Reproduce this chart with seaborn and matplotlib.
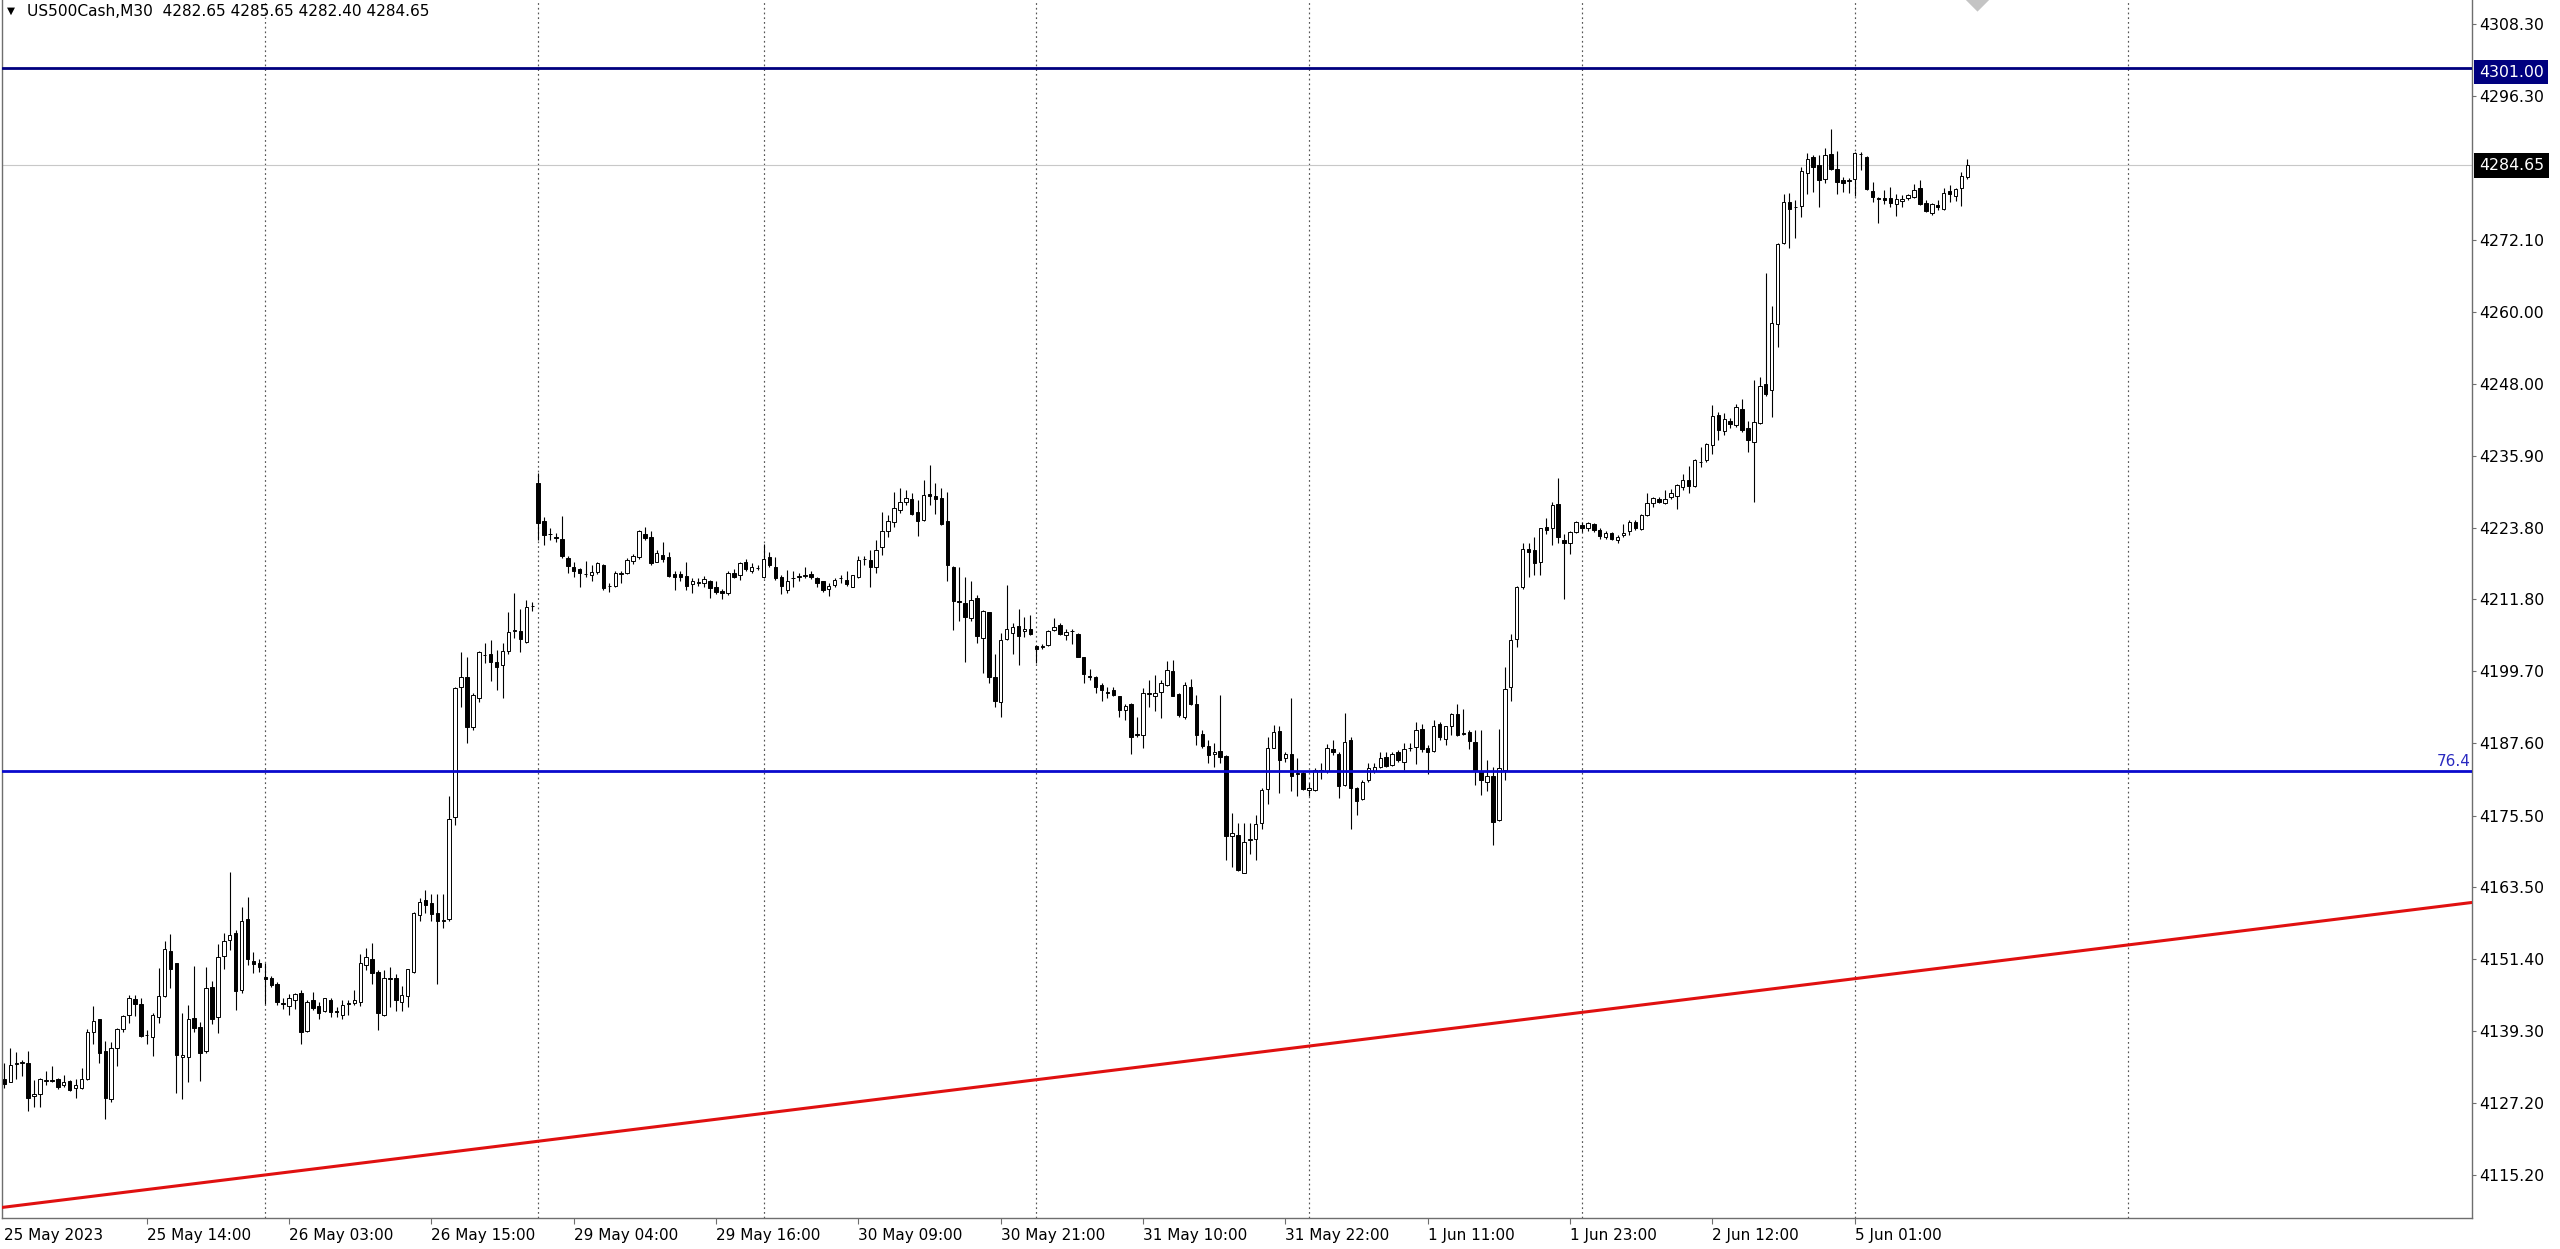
import numpy as np
import pandas as pd
import matplotlib
matplotlib.use("Agg")
import matplotlib.pyplot as plt
import matplotlib.transforms as mtransforms
import seaborn as sns

# ---------------- data ----------------
symbol_title = "US500Cash,M30"
last_ohlc = ["4282.65", "4285.65", "4282.40", "4284.65"]

opens = [
 4131.3,4130.8,4133.8,4134.0,4134.0,4128.4,4128.8,4130.9,4131.1,4131.2,
 4130.2,4130.9,4129.7,4129.8,4131.2,4139.2,4141.3,4135.9,4128.0,4136.5,
 4139.6,4142.1,4144.7,4143.9,4138.7,4138.3,4141.6,4145.2,4152.8,4150.7,
 4134.9,4135.0,4141.5,4140.0,4135.9,4146.7,4141.7,4151.9,4154.6,4155.8,
 4146.2,4158.1,4151.1,4150.8,4148.4,4148.3,4147.3,4144.1,4143.5,4144.6,
 4145.7,4139.3,4144.5,4143.5,4142.7,4144.6,4142.6,4142.0,4143.9,4144.0,
 4144.2,4150.4,4151.5,4149.3,4142.0,4148.1,4148.3,4144.2,4145.2,4149.3,
 4158.8,4161.3,4160.9,4159.1,4157.8,4158.2,4175.3,4197.0,4198.8,4190.4,
 4195.2,4202.5,4202.6,4201.2,4200.7,4203.2,4206.5,4206.4,4204.6,4210.6,
 4231.4,4225.0,4222.8,4222.3,4221.9,4218.8,4217.2,4216.9,4216.1,4215.8,
 4216.4,4217.6,4214.1,4214.1,4216.1,4216.2,4218.3,4218.9,4222.8,4222.2,
 4218.1,4219.3,4218.9,4216.1,4216.0,4215.7,4214.4,4214.6,4214.5,4214.9,
 4213.9,4213.2,4212.9,4216.3,4215.9,4218.0,4216.6,4217.0,4215.6,4218.9,
 4217.3,4215.6,4213.4,4215.3,4215.6,4215.7,4216.1,4215.3,4214.8,4213.5,
 4214.2,4215.3,4215.1,4213.9,4215.5,4218.6,4218.4,4217.2,4220.5,4223.2,
 4224.7,4226.8,4228.1,4228.6,4226.4,4225.1,4229.5,4229.2,4228.8,4224.9,
 4217.3,4211.5,4211.1,4208.6,4212.0,4205.3,4209.6,4198.7,4194.5,4205.1,
 4206.1,4207.4,4206.4,4206.8,4203.9,4203.8,4204.1,4206.7,4207.5,4205.8,
 4206.5,4206.0,4202.1,4198.9,4198.8,4197.4,4196.2,4196.5,4195.5,4193.2,
 4194.3,4189.1,4189.0,4195.9,4195.5,4196.3,4197.4,4199.7,4195.9,4192.1,
 4197.1,4194.2,4189.2,4187.2,4185.8,4186.3,4185.5,4172.1,4172.2,4165.9,
 4171.4,4171.5,4174.2,4179.9,4186.9,4189.7,4185.1,4185.9,4182.5,4182.6,
 4179.8,4179.8,4183.0,4182.9,4186.6,4185.9,4180.6,4188.2,4180.1,4178.2,
 4181.5,4183.0,4183.7,4185.3,4184.0,4186.1,4184.5,4186.8,4187.0,4190.1,
 4186.8,4186.4,4190.8,4188.4,4190.6,4192.6,4189.3,4189.5,4187.8,4183.0,
 4181.1,4182.1,4174.7,4183.1,4197.1,4205.2,4213.9,4220.3,4220.0,4218.1,
 4224.0,4223.7,4227.8,4221.8,4221.2,4223.1,4224.2,4223.7,4224.4,4223.5,
 4222.3,4223.0,4221.8,4222.6,4223.3,4224.8,4223.6,4225.9,4227.9,4228.6,
 4227.9,4228.9,4229.2,4230.7,4231.8,4230.8,4234.8,4235.2,4237.7,4242.8,
 4240.1,4241.8,4241.0,4243.8,4240.5,4238.2,4241.4,4248.0,4246.9,4258.0,
 4271.6,4278.5,4277.6,4277.8,4283.4,4286.0,4284.7,4282.3,4286.6,4284.0,
 4282.2,4282.0,4282.3,4286.5,4286.1,4280.4,4279.1,4279.1,4279.1,4278.1,
 4278.6,4279.1,4279.4,4280.8,4278.4,4276.7,4278.0,4277.4,4280.3,4279.5,
 4280.8,4282.65]

highs = [
 4133.9,4136.5,4135.8,4134.5,4135.9,4131.1,4131.4,4132.7,4133.4,4131.5,
 4131.9,4131.1,4131.3,4133.1,4139.7,4143.5,4141.4,4137.6,4137.5,4139.9,
 4142.0,4145.3,4145.3,4144.8,4139.5,4142.4,4149.9,4154.5,4155.7,4150.8,
 4142.3,4143.7,4150.3,4140.9,4150.1,4147.7,4154.0,4155.8,4166.0,4156.3,
 4160.1,4161.9,4152.6,4151.5,4150.7,4148.5,4147.5,4144.8,4145.6,4145.7,
 4146.2,4144.5,4145.9,4144.2,4144.9,4144.8,4143.4,4144.5,4144.5,4146.2,
 4152.3,4153.2,4154.1,4149.5,4149.5,4150.0,4148.9,4146.9,4149.8,4159.3,
 4161.7,4163.0,4162.3,4162.4,4162.4,4178.7,4197.0,4203.0,4202.1,4196.0,
 4203.1,4204.4,4205.0,4203.3,4204.4,4209.7,4212.8,4210.1,4211.7,4211.4,
 4233.0,4225.7,4223.7,4222.9,4225.8,4219.1,4218.1,4217.0,4218.3,4217.6,
 4218.1,4217.7,4214.6,4216.5,4216.6,4218.7,4219.4,4223.5,4224.0,4223.2,
 4220.0,4221.5,4219.8,4216.5,4216.5,4218.1,4215.3,4215.3,4215.7,4215.1,
 4214.9,4213.5,4216.5,4216.9,4218.0,4218.5,4217.9,4217.6,4221.1,4219.8,
 4218.9,4215.9,4216.7,4216.5,4216.3,4217.3,4216.5,4215.6,4214.9,4214.5,
 4215.3,4215.9,4216.5,4215.9,4219.0,4219.1,4220.1,4221.8,4226.4,4226.0,
 4229.9,4230.5,4230.1,4229.7,4228.5,4231.9,4234.4,4231.3,4230.5,4229.9,
 4217.4,4217.3,4215.6,4214.9,4212.5,4210.0,4209.7,4202.6,4206.1,4214.2,
 4207.8,4210.1,4208.9,4209.2,4204.1,4204.3,4206.7,4208.6,4207.8,4206.9,
 4206.8,4206.1,4202.2,4200.1,4198.9,4197.7,4197.0,4197.0,4195.6,4194.3,
 4194.4,4192.1,4196.9,4198.3,4199.1,4198.3,4201.5,4201.6,4196.0,4198.0,
 4198.4,4195.7,4189.9,4188.2,4187.6,4195.7,4185.7,4175.9,4174.2,4174.2,
 4174.2,4175.6,4180.1,4188.7,4190.7,4190.5,4186.2,4195.2,4185.1,4182.9,
 4180.9,4183.4,4184.3,4187.5,4188.2,4186.2,4192.8,4188.7,4180.3,4181.5,
 4184.3,4184.3,4186.2,4186.2,4186.2,4186.5,4187.6,4187.7,4191.2,4190.9,
 4187.3,4191.6,4191.2,4190.6,4192.7,4194.3,4193.4,4189.8,4189.8,4189.8,
 4184.8,4183.6,4190.1,4200.4,4206.0,4214.0,4221.3,4221.2,4222.2,4223.8,
 4225.4,4228.2,4232.2,4222.8,4223.3,4225.0,4224.8,4224.8,4224.6,4223.7,
 4223.3,4223.1,4222.6,4224.4,4225.1,4225.1,4226.2,4229.7,4229.0,4228.9,
 4230.1,4230.4,4231.2,4232.9,4234.2,4235.3,4237.4,4238.1,4244.4,4243.3,
 4243.0,4242.2,4244.6,4245.4,4241.8,4248.6,4249.1,4266.5,4261.0,4271.6,
 4279.9,4280.0,4278.8,4284.4,4286.8,4286.4,4286.4,4287.5,4290.7,4287.1,
 4282.7,4282.6,4286.9,4286.9,4286.2,4281.9,4279.4,4280.5,4281.0,4279.8,
 4279.6,4279.8,4281.6,4282.2,4278.8,4278.4,4278.8,4280.8,4281.3,4280.8,
 4283.6,4285.65]

lows = [
 4129.7,4130.7,4131.3,4131.8,4125.9,4126.6,4126.5,4130.2,4130.7,4129.6,
 4129.9,4129.2,4128.1,4129.6,4131.1,4137.2,4134.0,4124.6,4127.4,4133.4,
 4139.2,4140.7,4141.9,4138.3,4137.2,4135.1,4140.6,4145.1,4146.5,4129.0,
 4128.0,4130.8,4139.2,4130.9,4135.7,4140.5,4139.0,4149.7,4152.9,4142.9,
 4145.7,4150.4,4149.1,4149.3,4143.9,4146.7,4143.7,4143.1,4142.0,4143.1,
 4137.2,4139.2,4142.8,4141.4,4142.5,4141.7,4141.7,4141.4,4142.0,4143.7,
 4143.5,4149.5,4147.2,4139.5,4141.9,4143.4,4142.7,4142.7,4143.4,4149.0,
 4157.8,4159.1,4157.8,4147.3,4156.7,4157.8,4173.9,4193.8,4187.6,4189.9,
 4194.6,4201.1,4198.1,4196.6,4195.2,4202.6,4205.3,4203.0,4204.4,4209.9,
 4221.8,4220.9,4221.8,4221.5,4218.7,4216.3,4215.6,4213.9,4215.5,4214.8,
 4216.1,4213.3,4213.1,4213.8,4214.5,4216.1,4217.7,4218.5,4221.8,4217.6,
 4218.0,4218.1,4215.5,4213.4,4214.9,4213.4,4212.9,4214.1,4213.9,4212.0,
 4212.7,4211.8,4212.5,4215.3,4215.1,4216.6,4216.3,4216.7,4215.3,4217.3,
 4215.1,4212.7,4212.9,4213.9,4214.9,4215.3,4215.2,4213.9,4213.1,4212.3,
 4213.9,4214.5,4214.1,4213.8,4215.3,4217.6,4213.9,4216.3,4219.3,4222.2,
 4224.0,4226.3,4227.7,4226.0,4222.5,4225.0,4227.7,4226.1,4224.3,4214.8,
 4206.7,4208.1,4201.3,4208.2,4204.4,4199.5,4197.7,4193.8,4192.1,4204.9,
 4202.6,4200.7,4205.5,4205.8,4201.1,4203.5,4204.0,4206.4,4205.8,4205.0,
 4204.3,4202.1,4197.7,4198.3,4196.1,4194.8,4195.3,4195.6,4192.0,4191.5,
 4185.8,4188.7,4186.9,4193.8,4193.1,4191.8,4197.3,4195.5,4192.1,4191.7,
 4194.1,4187.3,4186.9,4184.4,4183.7,4184.3,4168.0,4166.9,4166.2,4165.8,
 4169.1,4168.1,4173.3,4177.5,4186.8,4179.3,4184.5,4179.7,4178.7,4179.8,
 4178.7,4179.7,4181.7,4182.7,4185.7,4178.4,4180.5,4173.2,4175.6,4178.1,
 4181.2,4182.6,4183.4,4183.6,4183.8,4184.5,4183.1,4186.4,4184.2,4186.2,
 4182.5,4186.2,4188.1,4187.3,4189.0,4188.8,4189.0,4186.7,4180.6,4178.9,
 4179.7,4170.5,4174.6,4181.4,4194.8,4203.8,4213.6,4215.6,4215.8,4215.8,
 4222.8,4221.0,4221.2,4211.8,4219.4,4223.0,4223.1,4223.3,4223.1,4222.0,
 4222.0,4221.8,4221.3,4222.3,4222.6,4223.4,4223.4,4225.8,4227.3,4227.9,
 4227.8,4228.7,4227.0,4230.1,4229.6,4230.7,4234.0,4234.9,4236.2,4238.6,
 4239.4,4240.5,4240.8,4239.9,4236.6,4228.1,4241.3,4246.0,4242.4,4254.2,
 4271.5,4270.8,4272.4,4276.0,4279.8,4280.2,4277.7,4281.7,4283.8,4279.8,
 4280.2,4280.0,4279.5,4283.8,4280.5,4278.5,4275.0,4278.2,4277.7,4276.1,
 4277.7,4278.8,4279.1,4278.0,4276.8,4276.3,4277.1,4277.1,4278.5,4278.6,
 4277.8,4282.40]

closes = [
 4130.4,4133.6,4133.9,4134.1,4128.1,4128.8,4131.2,4131.1,4131.0,4129.9,
 4130.7,4129.4,4130.2,4131.2,4139.1,4141.0,4135.7,4128.1,4136.4,4139.6,
 4141.8,4144.9,4143.8,4138.5,4138.6,4142.1,4145.2,4153.1,4149.8,4135.3,
 4135.3,4141.3,4139.9,4135.7,4146.6,4141.4,4151.7,4154.4,4155.5,4146.0,
 4157.8,4151.5,4150.5,4150.1,4148.1,4147.0,4144.2,4143.9,4144.8,4145.5,
 4139.2,4144.2,4143.2,4142.4,4144.8,4142.5,4142.5,4143.7,4144.0,4144.5,
 4150.7,4151.7,4149.0,4142.3,4148.3,4148.2,4144.5,4145.3,4149.7,4159.2,
 4161.0,4160.5,4158.9,4157.8,4157.9,4175.0,4196.9,4198.7,4190.3,4195.7,
 4202.9,4202.4,4201.3,4200.5,4203.1,4206.3,4206.6,4205.1,4210.5,4210.7,
 4224.6,4222.6,4222.7,4222.1,4219.0,4217.4,4216.6,4216.3,4216.0,4216.4,
 4217.9,4213.7,4214.0,4216.3,4216.2,4218.4,4219.1,4223.2,4222.1,4217.9,
 4219.5,4218.5,4215.7,4215.5,4215.5,4214.1,4214.8,4214.7,4215.2,4213.7,
 4213.1,4212.8,4216.2,4215.5,4217.9,4216.9,4217.3,4217.1,4218.5,4217.6,
 4215.3,4214.1,4214.9,4215.4,4215.7,4215.8,4215.5,4214.6,4213.4,4214.1,
 4215.1,4215.4,4214.4,4215.8,4218.4,4218.5,4217.3,4220.1,4223.2,4224.9,
 4227.1,4228.2,4228.8,4226.1,4225.0,4229.3,4229.1,4228.6,4224.5,4217.6,
 4211.6,4211.4,4208.9,4211.7,4205.7,4209.9,4198.8,4194.7,4204.9,4206.8,
 4207.2,4205.7,4206.8,4206.0,4203.5,4204.0,4206.4,4207.1,4206.0,4206.3,
 4206.4,4202.2,4199.2,4198.7,4197.1,4196.5,4196.1,4195.7,4193.2,4193.9,
 4188.7,4189.0,4196.0,4196.0,4196.1,4197.8,4199.9,4195.6,4192.4,4197.4,
 4194.3,4189.0,4187.1,4185.7,4186.1,4185.3,4172.1,4172.5,4166.3,4171.1,
 4171.5,4174.0,4179.8,4186.8,4189.6,4184.9,4185.8,4182.1,4182.7,4179.9,
 4180.1,4183.1,4183.1,4186.9,4186.2,4180.5,4187.9,4180.1,4178.0,4181.2,
 4183.4,4183.6,4185.1,4183.8,4185.9,4184.8,4186.7,4186.9,4189.9,4186.7,
 4186.2,4190.6,4188.7,4190.6,4192.5,4189.0,4189.2,4188.0,4183.0,4181.4,
 4182.2,4174.4,4183.4,4196.8,4204.9,4213.8,4220.2,4219.8,4217.9,4223.7,
 4223.5,4227.6,4222.2,4221.3,4223.1,4224.8,4223.8,4224.6,4223.5,4222.4,
 4223.0,4222.0,4222.3,4223.0,4224.7,4223.7,4225.9,4227.9,4228.8,4228.1,
 4228.6,4229.6,4231.0,4231.9,4230.8,4235.2,4234.9,4237.8,4242.6,4240.2,
 4242.0,4241.3,4244.1,4240.3,4238.6,4241.6,4247.6,4246.3,4258.2,4271.5,
 4278.5,4277.4,4277.7,4283.7,4285.7,4284.4,4282.2,4286.4,4284.1,4281.9,
 4281.7,4282.1,4286.8,4286.6,4280.6,4279.4,4279.0,4278.9,4278.4,4279.0,
 4279.0,4279.6,4280.5,4278.1,4277.0,4278.2,4277.6,4280.0,4279.9,4280.6,
 4282.8,4284.65]

x_tick_bars = [24, 48, 72, 96, 120, 144, 168, 192, 216, 240, 264, 288, 312]
x_tick_labels = ["25 May 14:00", "26 May 03:00", "26 May 15:00", "29 May 04:00",
                 "29 May 16:00", "30 May 09:00", "30 May 21:00", "31 May 10:00",
                 "31 May 22:00", "1 Jun 11:00", "1 Jun 23:00", "2 Jun 12:00",
                 "5 Jun 01:00"]
first_date_label = "25 May 2023"
separator_bars = [44, 90, 128, 174, 220, 266, 312, 358]
y_tick_values = [4308.30, 4296.30, 4272.10, 4260.00, 4248.00, 4235.90, 4223.80,
                 4211.80, 4199.70, 4187.60, 4175.50, 4163.50, 4151.40, 4139.30,
                 4127.20, 4115.20]
resistance_level = 4301.00
fib_level = 4183.0
fib_label = "76.4"
current_price = 4284.65
trend_bars = [-0.5, 416.0]
trend_prices = [4109.7, 4160.9]
marker_bar = [332.7]
y_limits = (4107.94, 4312.41)
x_limits = (-0.49, 416.0)

# ---------------- style ----------------
sns.set_theme(style="white")
plt.rcParams['font.family'] = ['DejaVu Sans']

W, H = 2560, 1249
fig = plt.figure(figsize=(W / 100, H / 100), dpi=100)
fig.patch.set_facecolor("white")
ax = fig.add_axes([1.5 / W, 31 / H, (2471.5 - 1.5) / W, 1218 / H])
ax.set_facecolor("white")

df = pd.DataFrame({"bar": np.arange(len(opens)), "open": opens, "high": highs,
                   "low": lows, "close": closes})
up = df["close"] >= df["open"]
body_bottom = np.minimum(df["open"], df["close"])
body_height = np.maximum(np.abs(df["close"] - df["open"]), 0.12)

# separators (dotted)
for b in separator_bars:
    ax.axvline(b, color="#555555", lw=0.85, linestyle=(0, (1.5, 2.5)), zorder=1)

# current price line
ax.axhline(current_price, color="#c8c8c8", lw=0.8, zorder=1)

# wicks
ax.vlines(df["bar"], df["low"], df["high"], color="black", lw=0.8, zorder=2)
# bodies
ax.bar(df["bar"][up], body_height[up], bottom=body_bottom[up], width=0.58,
       color="white", edgecolor="black", linewidth=0.7, zorder=3)
ax.bar(df["bar"][~up], body_height[~up], bottom=body_bottom[~up], width=0.58,
       color="black", edgecolor="black", linewidth=0.7, zorder=3)

# horizontal levels
ax.axhline(resistance_level, color="#00007f", lw=2.0, zorder=4)
ax.axhline(fib_level, color="#0a0acd", lw=2.0, zorder=4)

# red trendline
sns.lineplot(x=trend_bars, y=trend_prices, ax=ax, color="#e01010", lw=2.2,
             zorder=4, legend=False)

# grey diamond marker at top
sns.scatterplot(x=marker_bar, y=[y_limits[1] + 0.2], ax=ax, marker="D", s=170,
                color="#c4c4c4", edgecolor="none", zorder=5, legend=False)

ax.set_xlim(*x_limits)
ax.set_ylim(*y_limits)

# spines
for side in ["left", "bottom", "right"]:
    ax.spines[side].set_visible(True)
    ax.spines[side].set_color("#6e6e6e")
    ax.spines[side].set_linewidth(1.0)
ax.spines["top"].set_visible(False)

# y axis on right
ax.yaxis.tick_right()
ax.set_yticks(y_tick_values)
ax.set_yticklabels([f"{v:.2f}" for v in y_tick_values])
ax.tick_params(axis="y", which="both", direction="out", length=3, width=0.8,
               color="#6e6e6e", labelsize=11.3, pad=2.5, labelcolor="black",
               left=False, right=True)

# x axis
ax.set_xticks(x_tick_bars)
ax.set_xticklabels(x_tick_labels)
ax.tick_params(axis="x", which="both", direction="out", length=4, width=0.8,
               color="#6e6e6e", labelsize=11, pad=3.5, labelcolor="black",
               bottom=True, top=False)
for lbl in ax.get_xticklabels():
    lbl.set_horizontalalignment("left")
ax.set_xlabel("")
ax.set_ylabel("")
ax.grid(False)

trans_xa = mtransforms.blended_transform_factory(ax.transAxes, ax.transAxes)
ax.annotate(first_date_label, xy=(0, 0), xycoords=trans_xa, xytext=(1.5, -7.4),
            textcoords="offset points", ha="left", va="top", fontsize=11,
            color="black", annotation_clip=False)

# price boxes on the right axis
for value, face, dy in [(resistance_level, "#00007f", -3.0), (current_price, "black", 0.0)]:
    ax.annotate(f"{value:.2f}", xy=(1.0, value), xycoords=("axes fraction", "data"),
                xytext=(5.4, dy), textcoords="offset points", ha="left", va="center",
                fontsize=11.3, color="white", annotation_clip=False,
                bbox=dict(boxstyle="square,pad=0.3", fc=face, ec="none"))

# fib label
ax.annotate(fib_label, xy=(1.0, fib_level), xycoords=("axes fraction", "data"),
            xytext=(-0.5, 1.0), textcoords="offset points", ha="right", va="bottom",
            fontsize=11, color="#2a2ac0", annotation_clip=False)

# title
fig.text(7 / W, 1 - 11 / H, "\u25BC", fontsize=7.5, ha="left", va="center",
         color="black")
fig.text(27 / W, 1 - 11 / H, symbol_title + "  " + " ".join(last_ohlc),
         fontsize=11.1, ha="left", va="center", color="black")

fig.savefig("out.png", dpi=100, facecolor="white")
